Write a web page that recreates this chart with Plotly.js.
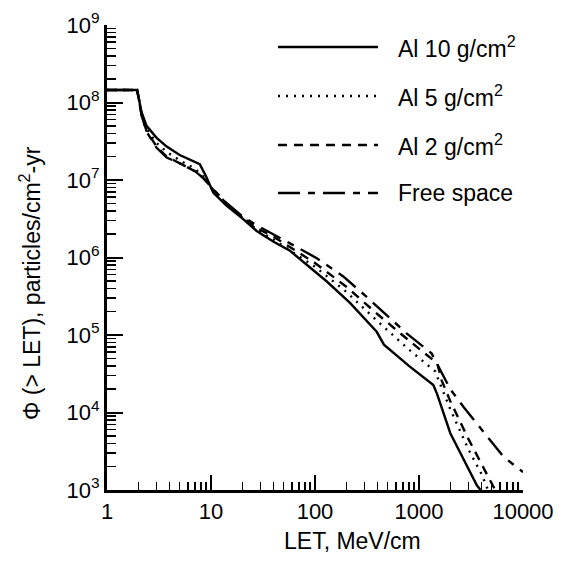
<!DOCTYPE html>
<html>
<head>
<meta charset="utf-8">
<script src="https://cdn.plot.ly/plotly-3.0.1.min.js"></script>
<style>html,body{margin:0;padding:0;background:#fff;}#chart{width:561px;height:570px;}</style>
</head>
<body>
<div id="chart"></div>
<script>
// ---- data ----
const seriesNames = ["Al 10 g/cm<sup>2</sup>", "Al 5 g/cm<sup>2</sup>", "Al 2 g/cm<sup>2</sup>", "Free space"];

const al10X = [1, 1.95, 2.15, 2.4, 3, 3.75, 5, 6.5, 7.8, 9, 10.5, 14, 20, 27.5, 40, 57.5, 80, 130, 217, 392, 460, 800, 1375, 1500, 2000, 2700, 3600, 3900];
const al10Y = [1.45e8, 1.45e8, 7.5e7, 5e7, 3.5e7, 2.7e7, 2.1e7, 1.8e7, 1.6e7, 1.1e7, 6.9e6, 4.7e6, 3.2e6, 2.2e6, 1.6e6, 1.22e6, 8.5e5, 4.9e5, 2.6e5, 1.1e5, 7.5e4, 4e4, 2.26e4, 1.7e4, 5.4e3, 2.5e3, 1.15e3, 1e3];

const al5X = [1, 1.95, 2.15, 2.4, 3, 3.75, 5, 7, 8.5, 10.5, 14, 20, 27.5, 40, 70, 100, 200, 400, 800, 1430, 1600, 2000, 3000, 4000, 4600];
const al5Y = [1.45e8, 1.45e8, 7.3e7, 4.6e7, 3e7, 2.3e7, 1.8e7, 1.4e7, 1.1e7, 7.3e6, 4.9e6, 3.25e6, 2.3e6, 1.7e6, 1.05e6, 7.6e5, 3.6e5, 1.5e5, 6.5e4, 3.4e4, 2.3e4, 1.1e4, 3.3e3, 1.6e3, 1e3];

const al2X = [1, 1.95, 2.15, 2.4, 3, 3.75, 5.2, 7, 8.5, 10.5, 14, 20, 27.5, 40, 70, 100, 200, 400, 800, 1500, 1650, 2000, 3000, 4500, 5400];
const al2Y = [1.45e8, 1.45e8, 7e7, 4.3e7, 2.7e7, 2e7, 1.6e7, 1.3e7, 1.05e7, 7.5e6, 5e6, 3.3e6, 2.4e6, 1.85e6, 1.15e6, 8.5e5, 4.2e5, 1.85e5, 8.5e4, 4.3e4, 2.6e4, 1.4e4, 4.5e3, 1.6e3, 1e3];

const freeX = [1, 1.95, 2.15, 2.4, 3, 3.75, 5.2, 7, 8.5, 10.5, 14, 20, 27.5, 40, 57.5, 104, 187, 314, 760, 1320, 1425, 2000, 2670, 4000, 6470, 10000];
const freeY = [1.45e8, 1.45e8, 6.8e7, 4.2e7, 2.6e7, 1.95e7, 1.6e7, 1.3e7, 1.05e7, 7.6e6, 5.1e6, 3.4e6, 2.6e6, 2e6, 1.52e6, 9.8e5, 5.7e5, 3.1e5, 1.05e5, 5.8e4, 4.75e4, 2e4, 1.19e4, 6e3, 2.7e3, 1.7e3];

const xTickVals = [1, 10, 100, 1000, 10000];
const xTickText = ["1", "10", "100", "1000", "10000"];
const yTickVals = [1e3, 1e4, 1e5, 1e6, 1e7, 1e8, 1e9];
const yTickText = ["10<sup>3</sup>", "10<sup>4</sup>", "10<sup>5</sup>", "10<sup>6</sup>", "10<sup>7</sup>", "10<sup>8</sup>", "10<sup>9</sup>"];
const xTitle = "LET, MeV/cm";
const yTitle = "\u03A6 (> LET), particles/cm<sup>2</sup>-yr";

// ---- styles ----
const dashes = ["solid", "2px,6px", "9px,7px", "22px,8px,7px,8px"];
const FONT = "Liberation Sans, Arial, Helvetica, sans-serif";
const TICKSIZE = 22, TEXTSIZE = 23;

function minorVals(lo, hi) {
  const v = [];
  for (let e = lo; e < hi; e++) for (let m = 2; m <= 9; m++) v.push(m * Math.pow(10, e));
  return v;
}

const xs = [al10X, al5X, al2X, freeX];
const ys = [al10Y, al5Y, al2Y, freeY];
const traces = xs.map((x, i) => ({
  x: x, y: ys[i], type: "scatter", mode: "lines", name: seriesNames[i],
  line: {color: "black", width: 2.4, dash: dashes[i]}, showlegend: false, cliponaxis: false
}));

// plot-area pixel frame
const L = 107, R = 523, T = 25, B = 490;
const px = v => (v - L) / (R - L);
const py = v => (B - v) / (B - T);

// custom legend (long line samples as in the reference)
const legendRows = [47, 96, 145, 193];
const shapes = [], annotations = [];
legendRows.forEach((ry, i) => {
  shapes.push({type: "line", xref: "paper", yref: "paper", x0: px(278), x1: px(378), y0: py(ry), y1: py(ry),
    line: {color: "black", width: 2.4, dash: dashes[i]}});
  annotations.push({xref: "paper", yref: "paper", x: px(396), y: py(ry), xanchor: "left", yanchor: "middle",
    text: seriesNames[i], showarrow: false, font: {family: FONT, size: TEXTSIZE, color: "black"}});
});
// axis titles, placed as in the reference
annotations.push({xref: "paper", yref: "paper", x: px(352), y: py(541), xanchor: "center", yanchor: "middle",
  text: xTitle, showarrow: false, font: {family: FONT, size: TEXTSIZE, color: "black"}});
annotations.push({xref: "paper", yref: "paper", x: px(30), y: py(283), xanchor: "center", yanchor: "middle",
  textangle: -90, text: yTitle, showarrow: false, font: {family: FONT, size: TEXTSIZE, color: "black"}});

const layout = {
  width: 561, height: 570,
  margin: {l: L, r: 561 - R, t: T, b: 570 - B},
  paper_bgcolor: "white", plot_bgcolor: "white",
  font: {family: FONT, size: TICKSIZE, color: "black"},
  showlegend: false,
  xaxis: {
    type: "log", range: [0, 4], showgrid: false, zeroline: false,
    showline: true, linecolor: "black", linewidth: 3, mirror: false,
    tickmode: "array", tickvals: xTickVals, ticktext: xTickText,
    ticks: "inside", ticklen: 15, tickwidth: 2, tickcolor: "black",
    minor: {tickmode: "array", tickvals: minorVals(0, 4), ticks: "inside", ticklen: 8, tickwidth: 1.5, tickcolor: "black", showgrid: false},
    tickfont: {family: FONT, size: TICKSIZE, color: "black"}
  },
  yaxis: {
    type: "log", range: [3, 9], showgrid: false, zeroline: false,
    showline: true, linecolor: "black", linewidth: 3, mirror: false,
    tickmode: "array", tickvals: yTickVals, ticktext: yTickText,
    ticks: "inside", ticklen: 16, tickwidth: 2, tickcolor: "black",
    minor: {tickmode: "array", tickvals: minorVals(3, 9), ticks: "inside", ticklen: 9, tickwidth: 1.5, tickcolor: "black", showgrid: false},
    tickfont: {family: FONT, size: TICKSIZE, color: "black"}
  },
  shapes: shapes,
  annotations: annotations
};

Plotly.newPlot("chart", traces, layout, {staticPlot: true, displayModeBar: false});
</script>
</body>
</html>
